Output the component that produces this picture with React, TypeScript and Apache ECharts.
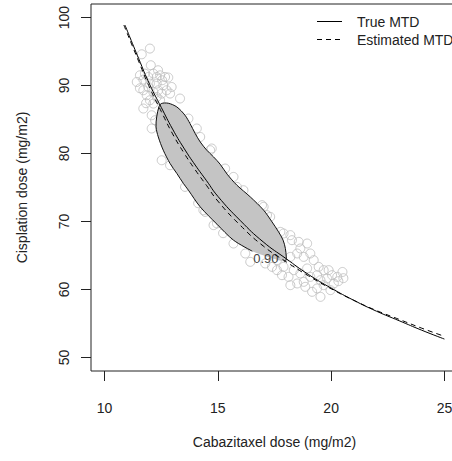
import React, { useEffect, useRef } from "react";
import * as echarts from "echarts";

const FONT = "'Liberation Sans', Arial, Helvetica, sans-serif";

const xTicks = [10, 15, 20, 25];
const yTicks = [50, 60, 70, 80, 90, 100];

// True MTD curve
const trueX = [10.9, 11.5, 12, 12.5, 13, 13.5, 14, 14.5, 15, 16, 17, 18, 19, 20, 21, 22, 23, 24, 25];
const trueY = [98.9, 94.0, 90.1, 86.8, 83.6, 80.8, 78.3, 76.0, 73.7, 70.1, 67.0, 64.56, 62.2, 60.2, 58.4, 56.8, 55.4, 54.0, 52.7];

// Estimated MTD curve
const estX = [10.85, 11.5, 12, 12.5, 13, 13.5, 14, 14.5, 15, 16, 17, 18, 19, 20, 21, 22, 23, 24, 25];
const estY = [98.9, 93.6, 89.6, 86.2, 82.9, 80.1, 77.6, 75.3, 73.0, 69.4, 66.4, 64.1, 62.0, 60.1, 58.4, 56.9, 55.6, 54.3, 53.1];

// 0.90 contour (open at the label)
const contourX = [16.52, 15.69, 14.96, 14.22, 13.70, 13.48, 13.19, 12.89, 12.59, 12.37, 12.27, 12.30, 12.40, 12.50, 12.81, 13.19, 13.55, 13.77, 14.00, 14.22, 14.51, 14.81, 15.10, 15.41, 15.84, 16.43, 17.02, 17.39, 17.68, 17.88, 17.98, 18.02, 18.01, 17.93];
const contourY = [65.63, 67.25, 69.60, 72.15, 74.60, 75.59, 77.06, 78.53, 80.49, 82.44, 83.91, 85.38, 86.90, 87.35, 87.40, 86.85, 85.63, 84.41, 82.94, 81.71, 80.49, 79.50, 78.43, 76.96, 75.34, 73.62, 71.66, 69.94, 68.47, 67.25, 66.03, 64.79, 64.30, 64.10];
const contourLabel = "0.90";
const labelPos = [17.12, 64.6];

// Simulated dose points (outside / near the contour)
const pointX = [12.00, 11.64, 12.04, 11.56, 11.78, 11.42, 11.71, 11.93, 12.15, 12.30, 12.45, 12.67, 12.81, 12.96, 12.59, 12.74, 12.89, 13.33, 11.71, 11.86, 12.00, 11.71, 12.08, 12.08, 12.23, 12.00, 12.30, 12.37, 12.15, 11.93, 12.52, 12.30, 12.15, 13.70, 14.07, 14.22, 14.66, 12.52, 12.89, 15.32, 15.69, 15.84, 13.55, 14.13, 14.44, 14.96, 15.23, 14.73, 16.13, 17.02, 17.17, 17.90, 18.20, 16.95, 17.31, 17.76, 18.27, 18.57, 18.64, 18.94, 19.08, 18.50, 18.79, 19.23, 18.20, 17.61, 17.39, 17.09, 17.90, 18.35, 18.64, 18.20, 18.50, 18.79, 19.08, 19.38, 19.67, 19.89, 20.04, 20.27, 19.82, 19.53, 19.67, 19.38, 19.16, 19.53, 19.97, 20.12, 18.86, 18.94, 19.45, 14.81, 15.69, 16.21, 16.43, 17.61, 17.83, 18.12, 14.36, 20.50, 20.32, 20.54, 12.36, 12.54, 11.56, 11.83, 12.45];
const pointY = [95.44, 94.60, 92.99, 91.51, 91.76, 90.53, 90.88, 91.26, 91.76, 91.26, 91.51, 91.26, 91.18, 89.79, 90.04, 89.31, 88.82, 88.09, 89.31, 88.57, 87.84, 86.62, 85.63, 83.68, 84.90, 90.29, 90.29, 89.31, 89.06, 89.79, 88.82, 88.32, 87.35, 85.15, 83.68, 82.44, 80.49, 79.01, 78.28, 77.79, 76.56, 75.09, 75.09, 72.69, 71.41, 69.71, 68.28, 80.74, 74.60, 72.15, 70.93, 68.24, 67.99, 72.40, 70.68, 68.47, 67.25, 67.00, 66.03, 66.76, 65.29, 65.29, 64.79, 64.31, 64.79, 64.31, 63.32, 63.82, 63.32, 62.84, 62.35, 60.63, 60.88, 61.12, 61.85, 62.10, 62.84, 62.84, 62.10, 61.85, 61.62, 61.37, 60.63, 60.15, 59.65, 58.91, 59.90, 60.88, 60.38, 63.09, 63.32, 69.46, 66.76, 65.29, 64.06, 62.84, 62.10, 61.85, 71.66, 62.57, 61.22, 61.66, 92.25, 90.78, 89.60, 87.40, 87.84];

const legendNames = ["True MTD", "Estimated MTD"];

export default function App() {
  const ref = useRef<HTMLDivElement>(null);
  useEffect(() => {
    if (!ref.current) return;
    const chart = echarts.init(ref.current, null, { renderer: "svg" });
    const textStyle = { fontFamily: FONT, fontSize: 14, color: "#222" };
    chart.setOption({
      animation: false,
      backgroundColor: "#fff",
      grid: { left: 91, top: 4, right: 0, bottom: 90, show: true, borderColor: "#222", borderWidth: 1, backgroundColor: "transparent" },
      xAxis: {
        type: "value", min: 9.4, max: 25.6,
        axisLine: { show: false },
        axisTick: { show: true, inside: false, length: 10, lineStyle: { color: "#222" }, customValues: xTicks },
        axisLabel: { ...textStyle, customValues: xTicks, margin: 30 },
        splitLine: { show: false },
        name: "Cabazitaxel dose (mg/m2)", nameLocation: "middle", nameGap: 64,
        nameTextStyle: textStyle,
      },
      yAxis: {
        type: "value", min: 48, max: 102,
        axisLine: { show: false },
        axisTick: { show: true, inside: false, length: 10, lineStyle: { color: "#222" }, customValues: yTicks },
        axisLabel: { ...textStyle, customValues: yTicks, margin: 20, rotate: 90 },
        splitLine: { show: false },
        name: "Cisplation dose (mg/m2)", nameLocation: "middle", nameGap: 62, nameRotate: 90,
        nameTextStyle: textStyle,
      },
      series: [
        {
          type: "scatter", z: 1, silent: true,
          data: pointX.map((x, i) => [x, pointY[i]]),
          symbol: "circle", symbolSize: 9,
          itemStyle: { color: "rgba(0,0,0,0)", borderColor: "#bdbdbd", borderWidth: 1 },
        },
        {
          type: "custom", z: 2, silent: true, coordinateSystem: "cartesian2d",
          data: [[contourX[0], contourY[0]]],
          renderItem: (_params: any, api: any) => {
            const pts = contourX.map((x, i) => api.coord([x, contourY[i]]));
            const lp = api.coord(labelPos);
            return {
              type: "group",
              children: [
                { type: "polygon", shape: { points: pts, smooth: 0.3 }, style: { fill: "#c4c4c4", stroke: "none" } },
                { type: "polyline", shape: { points: pts, smooth: 0.3 }, style: { fill: "none", stroke: "#111", lineWidth: 1 } },
                { type: "text", x: lp[0], y: lp[1], style: { text: contourLabel, font: `13px ${FONT}`, fill: "#444", align: "center", verticalAlign: "middle" } },
              ],
            };
          },
        },
        {
          type: "line", z: 3, name: legendNames[0], silent: true, symbol: "none", smooth: true,
          data: trueX.map((x, i) => [x, trueY[i]]),
          lineStyle: { color: "#000", width: 1 },
        },
        {
          type: "line", z: 3, name: legendNames[1], silent: true, symbol: "none", smooth: true,
          data: estX.map((x, i) => [x, estY[i]]),
          lineStyle: { color: "#000", width: 1, type: [5, 4] },
        },
      ],
      graphic: [
        { type: "line", shape: { x1: 317, y1: 21.5, x2: 342, y2: 21.5 }, style: { stroke: "#000", lineWidth: 1 } },
        { type: "text", x: 357, y: 21.5, style: { text: legendNames[0], font: `14px ${FONT}`, fill: "#222", verticalAlign: "middle" } },
        { type: "line", shape: { x1: 317, y1: 39.5, x2: 342, y2: 39.5 }, style: { stroke: "#000", lineWidth: 1, lineDash: [5, 4] } },
        { type: "text", x: 357, y: 39.5, style: { text: legendNames[1], font: `14px ${FONT}`, fill: "#222", verticalAlign: "middle" } },
      ],
    });
    return () => chart.dispose();
  }, []);
  return (
    <div style={{ position: "absolute", left: 0, top: 0, width: 452, height: 461, overflow: "hidden" }}>
      <div ref={ref} style={{ width: 458, height: 461 }} />
    </div>
  );
}
